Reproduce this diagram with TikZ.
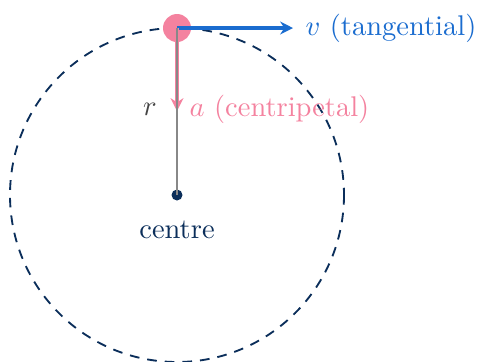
\documentclass[tikz,border=0pt]{standalone}
\usetikzlibrary{arrows.meta}
\definecolor{navy}{HTML}{0B2E5A}
\definecolor{pinkc}{HTML}{F4829F}
\definecolor{bluec}{HTML}{1A6CCF}
\definecolor{grayc}{HTML}{888888}
\definecolor{rgray}{HTML}{444444}
\tikzset{
  orbit/.style={draw=navy, line width=0.65pt, dash pattern=on 3.4pt off 2.8pt},
  radius line/.style={draw=grayc, line width=0.45pt},
  vel/.style={draw=bluec, line width=1.1pt, -{Stealth[length=4.5pt,width=4.5pt]}},
  acc/.style={draw=pinkc, line width=1.1pt, -{Stealth[length=4.5pt,width=4.5pt]}},
}
\begin{document}
\begin{tikzpicture}[x=0.351pt,y=-0.351pt]
\useasboundingbox (0,0) rectangle (478,361);
\coordinate (c) at (177,195);
\coordinate (p) at (177,28);
\draw[orbit] (c) circle[radius=167];
\fill[navy] (c) circle[radius=5.5];
\node[text=navy, inner sep=0pt] (centre) at (177,230) {centre};
\fill[pinkc] (p) circle[radius=14];
\coordinate (vend) at (293,28);
\coordinate (aend) at (177,111);
\draw[vel] (p) -- (vend);
\draw[acc] (p) -- (aend);
\draw[radius line] (p) -- (c);
\node[text=bluec, anchor=west, inner sep=0pt] (vlab) at (305,28) {$v$ (tangential)};
\node[text=pinkc, anchor=west, inner sep=0pt] (alab) at (189,109) {$a$ (centripetal)};
\node[text=rgray, inner sep=0pt] (rlab) at (150,109) {$r$};
\end{tikzpicture}
\end{document}
